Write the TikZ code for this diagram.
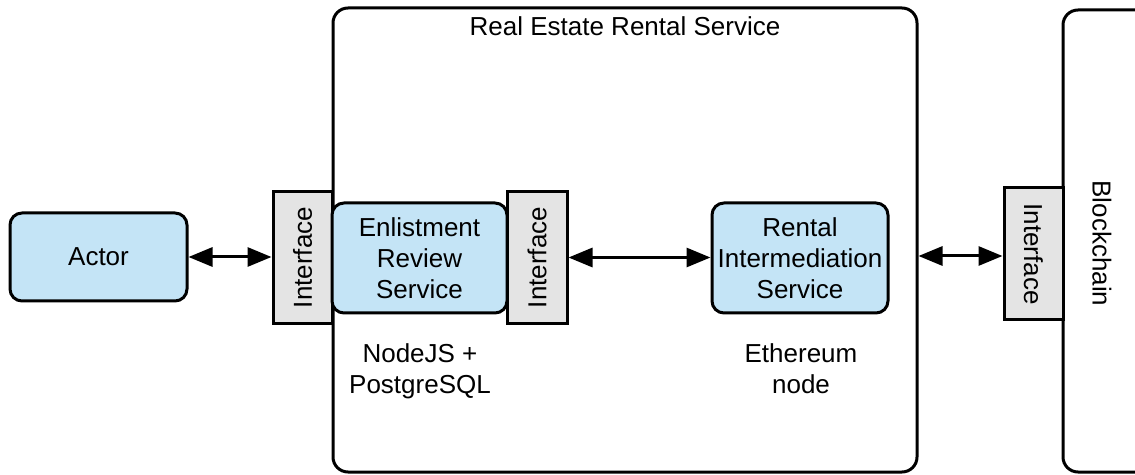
\documentclass[tikz,border=0pt]{standalone}
\usepackage{fontspec}
\setmainfont{Liberation Sans}
\usetikzlibrary{arrows.meta}
\definecolor{svcblue}{RGB}{196,228,246}
\definecolor{ifgray}{RGB}{228,228,228}
\begin{document}
\begin{tikzpicture}[x=1pt,y=1pt,
  every node/.style={font=\fontsize{26}{31}\selectfont, inner sep=0pt},
  outline/.style={draw=black, line width=3pt},
  service/.style={outline, fill=svcblue, rounded corners=12pt, align=center,
    minimum width=176pt, minimum height=110pt},
  iface/.style={outline, fill=ifgray, minimum width=59pt, minimum height=132pt},
  container/.style={outline, rounded corners=15pt},
  link/.style={line width=3pt,
    {Triangle[length=24pt,width=19pt]}-{Triangle[length=24pt,width=19pt]}}
]
\useasboundingbox (0,0) rectangle (1135,474);
\clip (0,0) rectangle (1135,474);

% outer service container
\node[container, minimum width=584pt, minimum height=464pt] (rers) at (625,234) {};
\node[anchor=base] (title) at (625,438) {Real Estate Rental Service};

% actor
\node[service, minimum width=177pt, minimum height=88pt] (actor) at (98.5,217) {Actor};

% left interface
\node[iface] (if1) at (302.5,216.5) {};
\node[rotate=90] (if1t) at (if1) {Interface};

% enlistment review service
\node[service, minimum width=175pt] (enl) at (419.5,216) {Enlistment\\Review\\Service};

% interface after enlistment
\node[iface, minimum width=60pt] (if2) at (537,216.5) {};
\node[rotate=90] (if2t) at (if2) {Interface};

% rental intermediation service
\node[service] (rental) at (800,216) {Rental\\Intermediation\\Service};

% technology notes (base = baseline of the last line)
\node[align=center, anchor=base] (tech1) at (420,81) {NodeJS +\\PostgreSQL};
\node[align=center, anchor=base] (tech2) at (801,81) {Ethereum\\node};

% blockchain
\node[container, minimum width=120pt, minimum height=462pt] (chain) at (1123,233) {};
\node[rotate=-90] (chaint) at (1102,230.5) {Blockchain};

% blockchain interface
\node[iface] (if3) at (1033.5,220) {};
\node[rotate=-90] (if3t) at (if3) {Interface};

% connectors
\draw[link] (actor.east) -- (actor.east -| if1.west);
\draw[link] (if2.east) -- (if2.east -| rental.west);
\draw[link] (rers.east |- 0,218) -- (if3.west |- 0,218);
\end{tikzpicture}
\end{document}
